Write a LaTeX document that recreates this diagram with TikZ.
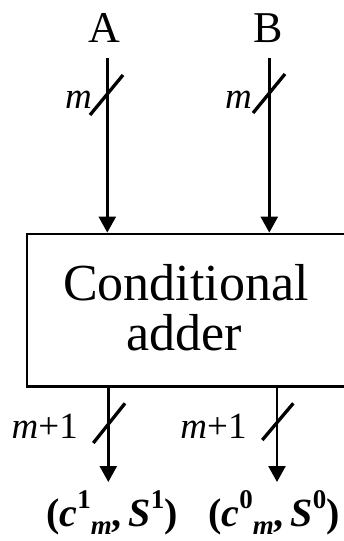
\documentclass[tikz,border=0pt]{standalone}
\usepackage{fontspec}
\setmainfont{Liberation Serif}
\usetikzlibrary{arrows.meta}
\tikzset{
  arr/.style={line width=2.5pt, -{Triangle[width=17pt,length=16pt]}},
  slash/.style={line width=3.3pt},
  boxstyle/.style={draw, line width=2.8pt, inner sep=0pt, minimum width=321pt, minimum height=152.5pt},
  toplbl/.style={anchor=base, inner sep=0pt, font=\fontsize{44}{44}\selectfont},
  boxtxt/.style={anchor=base, inner sep=0pt, font=\fontsize{52}{52}\selectfont},
  wlbl/.style={anchor=base east, inner sep=0pt, font=\fontsize{37}{37}\selectfont},
  outlbl/.style={anchor=base, inner sep=0pt, font=\fontsize{40}{40}\selectfont\bfseries}
}
\newcommand{\supx}[1]{\raisebox{0.45em}{\fontsize{27}{27}\selectfont #1}}
\newcommand{\subx}[1]{\raisebox{-0.2em}{\fontsize{27}{27}\selectfont #1}}
\begin{document}
\begin{tikzpicture}[x=1pt,y=-1pt]
\useasboundingbox (0,0) rectangle (344,541);
% labels
\node[toplbl] (A) at (104,42) {A};
\node[toplbl] (B) at (268,42) {B};
% box
\node[boxstyle] (box) at (187.5,310.25) {};
\node[boxtxt] (t1) at (186,300) {Conditional};
\node[boxtxt] (t2) at (184.5,350) {adder};
% input arrows
\coordinate (inA) at (107.3,58);
\coordinate (inB) at (269.3,58);
\draw[arr] (inA) -- (inA |- box.north);
\draw[arr] (inB) -- (inB |- box.north);
\draw[slash] (90,115) -- (123,75);
\draw[slash] (253,113) -- (285,74);
\node[wlbl] (mA) at (92,108) {\textit{m}};
\node[wlbl] (mB) at (252,108) {\textit{m}};
% output arrows
\coordinate (oA) at (108.3,482);
\coordinate (oB) at (277,482);
\draw[arr] (oA |- box.south) -- (oA);
\draw[arr] (oB |- box.south) -- (oB);
\draw[slash] (93.3,443) -- (125,403.3);
\draw[slash] (262.3,440) -- (293.3,403.3);
\node[wlbl] (m1A) at (78,438) {\textit{m}+1};
\node[wlbl] (m1B) at (246.7,438) {\textit{m}+1};
% output labels
\node[outlbl] (oLA) at (112,526) {(\textit{c}\supx{1}\subx{\textit{m}},\,\textit{S}\supx{1})};
\node[outlbl] (oLB) at (274,526) {(\textit{c}\supx{0}\subx{\textit{m}},\,\textit{S}\supx{0})};
\end{tikzpicture}
\end{document}
